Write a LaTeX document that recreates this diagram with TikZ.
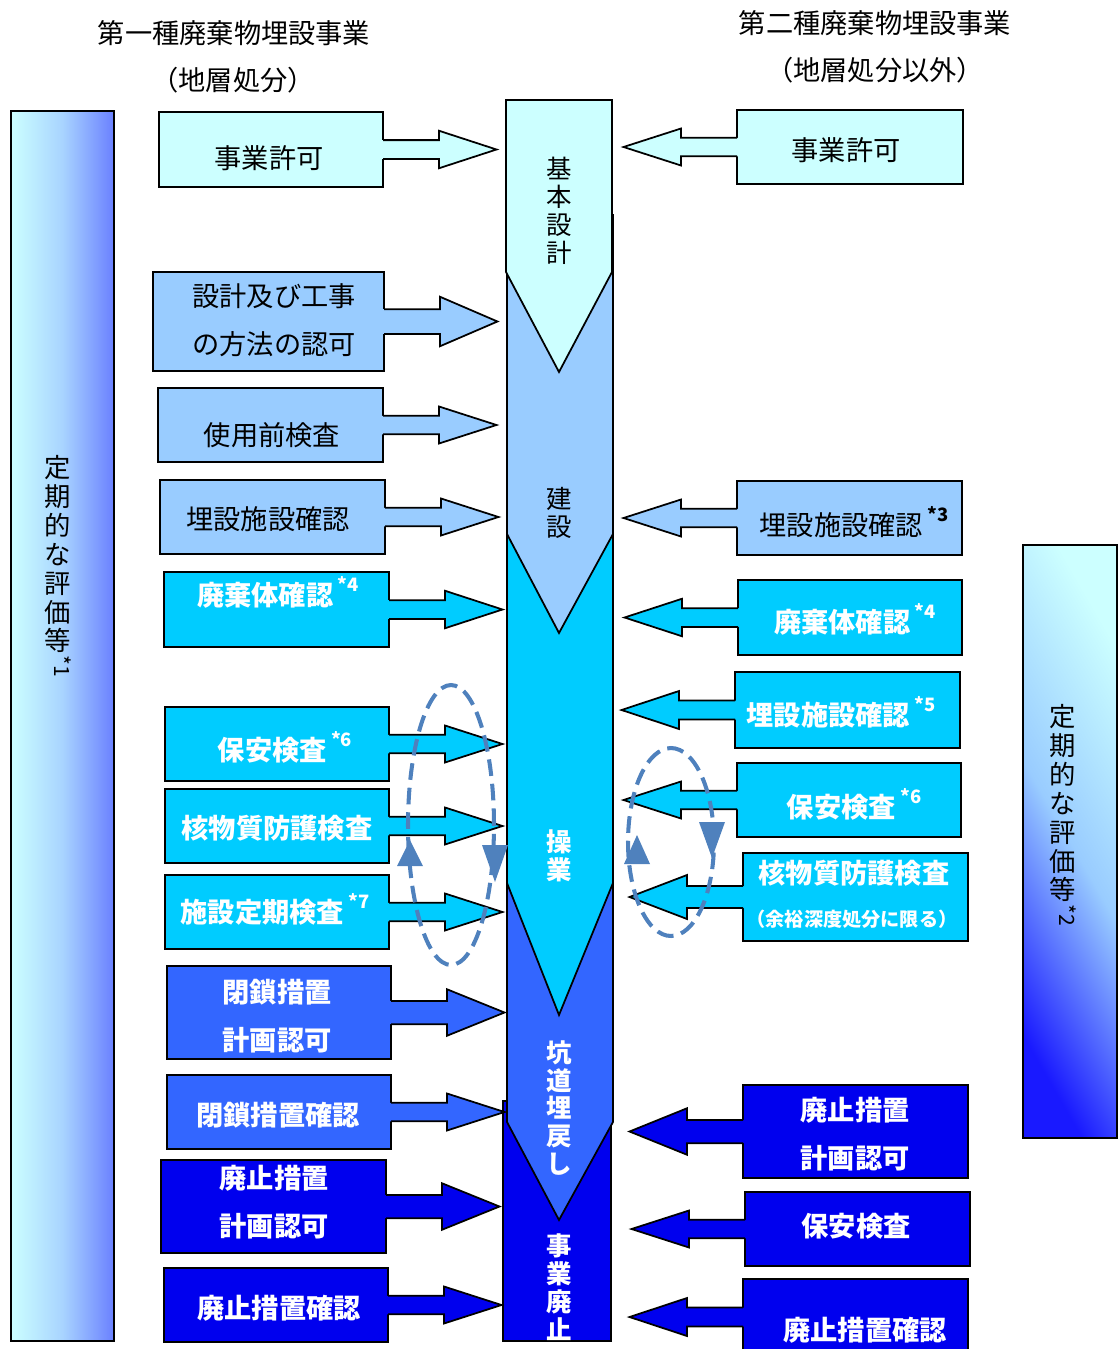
\documentclass[tikz,border=0pt]{standalone}
\usepackage{fontspec}
\usepackage{graphicx}
\setmainfont{Noto Sans CJK JP}
\usetikzlibrary{calc,fit}
\definecolor{PaleCyan}{HTML}{CCFFFF}
\definecolor{SkyBlue}{HTML}{99CCFF}
\definecolor{BrightCyan}{HTML}{00CCFF}
\definecolor{MidBlue}{HTML}{3366FF}
\definecolor{DeepBlue}{HTML}{0000EE}
\definecolor{LoopBlue}{HTML}{4F81BD}
\definecolor{BarBlue}{HTML}{6A80FF}

% footnote mark after a label
\newcommand{\nt}[1]{\,\raisebox{.5em}[0pt][0pt]{\fontsize{10.5}{11}\selectfont\bfseries *#1}}

% block arrow out of a box: #1 box, #2 side, #3 direction (1 or -1), #4 fill
\newcommand{\blockarrow}[4]{%
  \coordinate (s1) at ($(#1.#2)!.25!(#1.north #2)$);
  \coordinate (s2) at ($(#1.#2)!.25!(#1.south #2)$);
  \coordinate (h1) at ($(#1.#2)!.5!(#1.north #2)$);
  \coordinate (h2) at ($(#1.#2)!.5!(#1.south #2)$);
  \fill[#4] ([xshift={#3*(-0.8pt)}]s1) -- ([xshift={#3*1.12cm}]s1) -- ([xshift={#3*1.12cm}]h1)
    -- ([xshift={#3*2.27cm}]#1.#2) -- ([xshift={#3*1.12cm}]h2) -- ([xshift={#3*1.12cm}]s2)
    -- ([xshift={#3*(-0.8pt)}]s2) -- cycle;
  \draw[rim] (s1) -- ([xshift={#3*1.12cm}]s1) -- ([xshift={#3*1.12cm}]h1)
    -- ([xshift={#3*2.27cm}]#1.#2) -- ([xshift={#3*1.12cm}]h2) -- ([xshift={#3*1.12cm}]s2) -- (s2);
}

\begin{document}
\begin{tikzpicture}[
  x=0.02cm, y=-0.02cm,
  box/.style={draw=black, line width=1pt, inner sep=0pt, outer sep=0pt},
  rim/.style={draw=black, line width=1pt},
  stage/.style={draw=black, line width=1pt},
  heading/.style={font=\fontsize{15.5}{18}\selectfont},
  blacktext/.style={align=center, font=\fontsize{15.5}{27.4}\selectfont},
  whitetext/.style={align=center, text=white, font=\fontsize{15.5}{27.4}\selectfont\bfseries},
  vert/.style={align=center, font=\fontsize{14.5}{15.9}\selectfont},
  vertw/.style={align=center, text=white, font=\fontsize{14.5}{15.9}\selectfont\bfseries},
  sidetext/.style={align=center, font=\fontsize{15}{16.5}\selectfont},
  cycleline/.style={draw=LoopBlue, line width=2.3pt, dash pattern=on 9.5pt off 4.5pt}
]
\useasboundingbox (0,0) rectangle (1118,1349);

% headings
\node[heading] (typeI) at (234,33) {第一種廃棄物埋設事業};
\node[heading] (typeIsub) at (233,80) {（地層処分）};
\node[heading] (typeII) at (875,23) {第二種廃棄物埋設事業};
\node[heading] (typeIIsub) at (875,70) {（地層処分以外）};

% periodic evaluation bars
\node[box, left color=PaleCyan, right color=BarBlue, middle color=SkyBlue!85!white,
  fit={(11,111) (114,1341)}] (evalL) {};
\node[sidetext] (evalLt) at (58,566) {定\\期\\的\\な\\評\\価\\等\\[-3pt]\hspace{6pt}\rotatebox[origin=c]{-90}{\fontsize{12}{12}\selectfont *1}};
\node[box, left color=blue!90!white, right color=PaleCyan, middle color=SkyBlue,
  shading angle=120, fit={(1023,545) (1117,1138)}] (evalR) {};
\node[sidetext] (evalRt) at (1063,815) {定\\期\\的\\な\\評\\価\\等\\[-3pt]\hspace{6pt}\rotatebox[origin=c]{-90}{\fontsize{12}{12}\selectfont *2}};

% stages, from the last one upwards
\draw[stage, fill=DeepBlue] (503,1101) rectangle (611,1341);
\draw[stage, fill=MidBlue] (507,870) -- (613,870) -- (613,1122) -- (559,1220) -- (507,1122) -- cycle;
\draw[stage, fill=BrightCyan] (507,520) -- (613,520) -- (613,883) -- (559,1015) -- (507,883) -- cycle;
\draw[stage, fill=SkyBlue] (507,215) -- (613,215) -- (613,534) -- (559,633) -- (507,534) -- cycle;
\draw[stage, fill=PaleCyan] (506,100) -- (612,100) -- (612,272) -- (559,372) -- (506,272) -- cycle;
\node[vert] (design) at (559,211) {基\\本\\設\\計};
\node[vert] (build) at (559,513) {建\\設};
\node[vertw] (operate) at (559,856) {操\\業};
\node[vertw] (backfill) at (559,1108) {坑\\道\\埋\\戻\\し};
\node[vertw] (close) at (559,1287) {事\\業\\廃\\止};

% first category boxes
\node[box, fill=PaleCyan, fit={(159,112) (383,187)}] (licL) {};
\node[box, fill=SkyBlue, fit={(153,272) (384,371)}] (methodL) {};
\node[box, fill=SkyBlue, fit={(158,388) (383,462)}] (preuseL) {};
\node[box, fill=SkyBlue, fit={(160,480) (385,554)}] (facL) {};
\node[box, fill=BrightCyan, fit={(164,572) (389,647)}] (wasteL) {};
\node[box, fill=BrightCyan, fit={(165,707) (389,781)}] (safeL) {};
\node[box, fill=BrightCyan, fit={(165,789) (389,863)}] (physL) {};
\node[box, fill=BrightCyan, fit={(165,875) (389,949)}] (periodL) {};
\node[box, fill=MidBlue, fit={(167,966) (391,1059)}] (shutplanL) {};
\node[box, fill=MidBlue, fit={(167,1075) (391,1149)}] (shutchkL) {};
\node[box, fill=DeepBlue, fit={(161,1160) (386,1253)}] (endplanL) {};
\node[box, fill=DeepBlue, fit={(164,1268) (388,1342)}] (endchkL) {};
\foreach \b/\c in {licL/PaleCyan, methodL/SkyBlue, preuseL/SkyBlue, facL/SkyBlue,
  wasteL/BrightCyan, safeL/BrightCyan, physL/BrightCyan, periodL/BrightCyan,
  shutplanL/MidBlue, shutchkL/MidBlue, endplanL/DeepBlue, endchkL/DeepBlue}
  \blockarrow{\b}{east}{1}{\c};

% second category boxes
\node[box, fill=PaleCyan, fit={(737,110) (963,184)}] (licR) {};
\node[box, fill=SkyBlue, fit={(737,481) (962,555)}] (facR) {};
\node[box, fill=BrightCyan, fit={(738,580) (962,655)}] (wasteR) {};
\node[box, fill=BrightCyan, fit={(735,672) (960,748)}] (fac2R) {};
\node[box, fill=BrightCyan, fit={(737,763) (961,837)}] (safeR) {};
\node[box, fill=BrightCyan, fit={(743,853) (968,941)}] (physR) {};
\node[box, fill=DeepBlue, fit={(743,1085) (968,1178)}] (endplanR) {};
\node[box, fill=DeepBlue, fit={(745,1192) (970,1266)}] (safe2R) {};
\node[box, fill=DeepBlue, fit={(743,1279) (968,1355)}] (endchkR) {};
\foreach \b/\c in {licR/PaleCyan, facR/SkyBlue, wasteR/BrightCyan, fac2R/BrightCyan,
  safeR/BrightCyan, physR/BrightCyan, endplanR/DeepBlue, safe2R/DeepBlue, endchkR/DeepBlue}
  \blockarrow{\b}{west}{-1}{\c};

% labels, first category
\node[blacktext] (licLt) at (269,158) {事業許可};
\node[blacktext] (methodLt) at (274,320) {設計及び工事\\の方法の認可};
\node[blacktext] (preuseLt) at (272,435) {使用前検査};
\node[blacktext] (facLt) at (268,519) {埋設施設確認};
\node[whitetext] (wasteLt) at (278,595) {廃棄体確認\nt{4}};
\node[whitetext] (safeLt) at (285,750) {保安検査\nt{6}};
\node[whitetext] (physLt) at (277,828) {核物質防護検査};
\node[whitetext] (periodLt) at (275,912) {施設定期検査\nt{7}};
\node[whitetext] (shutplanLt) at (277,1016) {閉鎖措置\\計画認可};
\node[whitetext] (shutchkLt) at (278,1115) {閉鎖措置確認};
\node[whitetext] (endplanLt) at (274,1202) {廃止措置\\計画認可};
\node[whitetext] (endchkLt) at (279,1308) {廃止措置確認};

% labels, second category
\node[blacktext] (licRt) at (846,150) {事業許可};
\node[blacktext] (facRt) at (854,525) {埋設施設確認\nt{3}};
\node[whitetext] (wasteRt) at (855,622) {廃棄体確認\nt{4}};
\node[whitetext] (fac2Rt) at (841,715) {埋設施設確認\nt{5}};
\node[whitetext] (safeRt) at (854,807) {保安検査\nt{6}};
\node[whitetext] (physRt) at (854,873) {核物質防護検査};
\node[whitetext, font=\fontsize{10.9}{12}\selectfont\bfseries] (physRnote) at (852,919) {（余裕深度処分に限る）};
\node[whitetext] (endplanRt) at (855,1134) {廃止措置\\計画認可};
\node[whitetext] (safe2Rt) at (856,1226) {保安検査};
\node[whitetext] (endchkRt) at (865,1330) {廃止措置確認};

% repeated inspections during operation
\draw[cycleline] (451,825) ellipse [x radius=0.86cm, y radius=2.8cm];
\fill[LoopBlue] (410,840) -- (423,866) -- (397,866) -- cycle;
\fill[LoopBlue] (495,882) -- (508,845) -- (482,845) -- cycle;
\draw[cycleline] (671,842) ellipse [x radius=0.86cm, y radius=1.88cm];
\fill[LoopBlue] (637,835) -- (650,864) -- (624,864) -- cycle;
\fill[LoopBlue] (712,858) -- (725,822) -- (699,822) -- cycle;
\end{tikzpicture}
\end{document}
